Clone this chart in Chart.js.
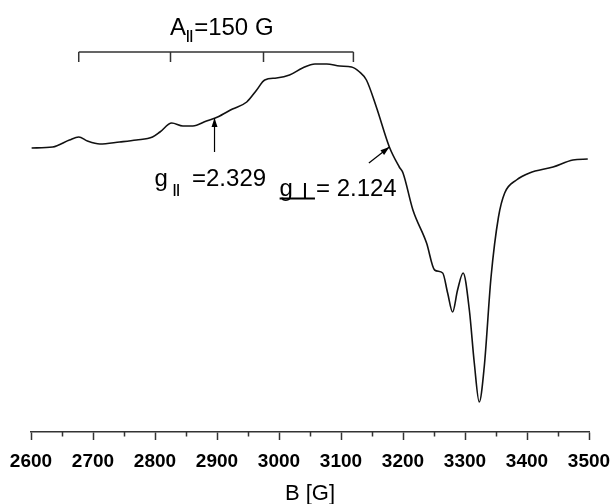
<!DOCTYPE html>
<html>
<head>
<meta charset="utf-8">
<script src="https://cdn.jsdelivr.net/npm/chart.js@4.4.0/dist/chart.umd.min.js"></script>
<style>
  html, body { margin: 0; padding: 0; background: #fff; }
  canvas { display: block; }
</style>
</head>
<body>
<canvas id="myChart" width="611" height="504"></canvas>
<script>
// EPR spectrum: field in G, first-derivative signal in arbitrary units
const fieldG = [2601, 2635, 2662, 2677, 2691, 2711, 2743, 2770, 2796, 2808, 2827, 2845, 2861, 2883, 2901,
  2925, 2948, 2964, 2977, 2996, 3017, 3038, 3058, 3077, 3098, 3117, 3130, 3141, 3157, 3178, 3194, 3200,
  3216, 3238, 3251, 3264, 3272, 3280, 3288, 3297, 3307, 3315, 3323, 3331, 3342, 3354, 3364, 3383, 3404,
  3442, 3474, 3498]
const signal = [132, 133, 140, 143, 139, 136, 138, 140, 143, 148, 157, 154, 154, 159, 163,
  171, 178, 190, 200, 202, 205, 212, 216, 216, 214, 213, 208, 200, 173, 133, 113, 107,
  70, 37, 10, 7, -13, -32, -10, 7, -30, -83, -122, -87, 3, 63, 87, 100, 107,
  113, 120, 121]
const fieldTicks = [2600, 2700, 2800, 2900, 3000, 3100, 3200, 3300, 3400, 3500]
const minorTicks = [2650, 2750, 2850, 2950, 3050, 3150, 3250, 3350, 3450]

// hyperfine splitting marks and g-value arrows (data units)
const hyperfineLines = [2677, 2825, 2975, 3120]
const gParallel = { label: '=2.329', from: [2896, 128], to: [2896, 162] }
const gPerp = { label: '= 2.124', from: [3145, 117], to: [3178, 133] }

const ctx = document.getElementById('myChart').getContext('2d')
const FONT = "'Liberation Sans', Arial, sans-serif"

function arrow(c, x1, y1, x2, y2) {
    const a = Math.atan2(y2 - y1, x2 - x1)
    c.beginPath()
    c.moveTo(x1, y1)
    c.lineTo(x2, y2)
    c.stroke()
    c.beginPath()
    c.moveTo(x2, y2)
    c.lineTo(x2 - 9 * Math.cos(a) + 3 * Math.sin(a), y2 - 9 * Math.sin(a) - 3 * Math.cos(a))
    c.lineTo(x2 - 9 * Math.cos(a) - 3 * Math.sin(a), y2 - 9 * Math.sin(a) + 3 * Math.cos(a))
    c.closePath()
    c.fill()
}

const annotations = {
    id: 'annotations',
    afterDraw(chart) {
        const c = chart.ctx
        const x = chart.scales.x, y = chart.scales.y
        c.save()
        c.strokeStyle = '#333'
        c.fillStyle = '#000'
        c.lineWidth = 1.5

        // minor ticks on the field axis
        c.beginPath()
        minorTicks.forEach(b => {
            const px = Math.round(x.getPixelForValue(b)) + 0.5
            c.moveTo(px, y.bottom)
            c.lineTo(px, y.bottom + 4.5)
        })
        c.stroke()

        // A|| bracket
        const top = y.getPixelForValue(228), foot = y.getPixelForValue(218)
        c.beginPath()
        c.moveTo(x.getPixelForValue(hyperfineLines[0]), top)
        c.lineTo(x.getPixelForValue(hyperfineLines[hyperfineLines.length - 1]), top)
        hyperfineLines.forEach(b => {
            c.moveTo(x.getPixelForValue(b), top)
            c.lineTo(x.getPixelForValue(b), foot)
        })
        c.stroke()

        c.textBaseline = 'alphabetic'
        c.textAlign = 'left'
        // A|| = 150 G
        let tx = x.getPixelForValue(2824), ty = y.getPixelForValue(245)
        c.font = '24px ' + FONT
        c.fillText('A', tx, ty)
        tx += c.measureText('A').width
        c.font = 'bold 13px ' + FONT
        c.fillText('||', tx, ty + 4)
        tx += c.measureText('||').width + 1
        c.font = '24px ' + FONT
        c.fillText('=150 G', tx, ty)

        // g|| label
        tx = x.getPixelForValue(2799); ty = y.getPixelForValue(94)
        c.font = '24px ' + FONT
        c.fillText('g', tx, ty)
        tx += c.measureText('g').width + 5
        c.font = 'bold 13px ' + FONT
        c.fillText('||', tx, ty + 7)
        tx += c.measureText('||').width + 12
        c.font = '24px ' + FONT
        c.fillText(gParallel.label, tx, ty)

        // g(perp) label
        tx = x.getPixelForValue(3001); ty = y.getPixelForValue(84)
        c.font = '24px ' + FONT
        c.fillText('g', tx, ty)
        const gw = c.measureText('g').width
        c.lineWidth = 2
        c.strokeStyle = '#000'
        c.beginPath()
        c.moveTo(tx, ty + 2.5)
        c.lineTo(tx + gw + 22, ty + 2.5)
        c.moveTo(tx + gw + 12, ty + 2.5)
        c.lineTo(tx + gw + 12, ty - 13)
        c.stroke()
        c.fillText(gPerp.label, tx + gw + 23, ty)

        // arrows
        c.lineWidth = 1.2
        ;[gParallel, gPerp].forEach(g => {
            arrow(c, x.getPixelForValue(g.from[0]), y.getPixelForValue(g.from[1]),
                x.getPixelForValue(g.to[0]), y.getPixelForValue(g.to[1]))
        })
        c.restore()
    }
}

const myChart = new Chart(ctx, {
    type: 'line',
    data: {
        datasets: [{
            label: 'EPR',
            data: fieldG.map((b, i) => ({ x: b, y: signal[i] })),
            borderColor: '#111',
            borderWidth: 1.6,
            pointRadius: 0,
            cubicInterpolationMode: 'monotone',
            fill: false
        }]
    },
    options: {
        responsive: false,
        animation: false,
        layout: { padding: { top: 20, left: 31, right: 22, bottom: 0 } },
        plugins: { legend: { display: false }, tooltip: { enabled: false } },
        scales: {
            x: {
                type: 'linear',
                min: 2600,
                max: 3500,
                afterFit: s => {
                    s.height = 72
                    s.paddingLeft = 0
                    s.paddingRight = 0
                },
                afterBuildTicks: s => { s.ticks = fieldTicks.map(v => ({ value: v })) },
                grid: { drawOnChartArea: false, drawTicks: true, tickLength: 8, tickColor: '#333', tickWidth: 1.5 },
                border: { display: true, color: '#333', width: 1.5 },
                ticks: {
                    color: '#000',
                    padding: 10,
                    maxRotation: 0,
                    autoSkip: false,
                    font: { family: FONT, size: 19, weight: 'bold' },
                    callback: v => String(v)
                },
                title: {
                    display: true,
                    text: 'B [G]',
                    color: '#000',
                    padding: 0,
                    font: { family: FONT, size: 22, lineHeight: 0.9 }
                }
            },
            y: {
                display: false,
                min: -152,
                max: 260
            }
        }
    },
    plugins: [annotations]
})
</script>
</body>
</html>
